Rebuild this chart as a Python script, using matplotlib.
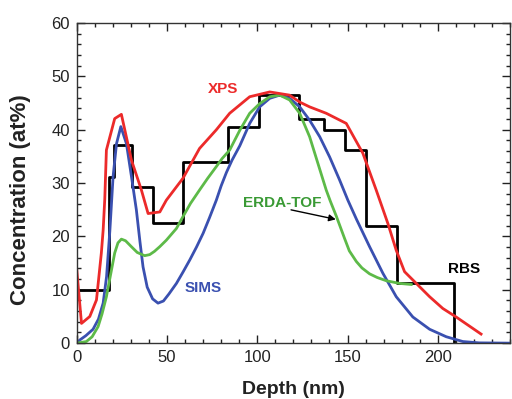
import numpy as np
import matplotlib.pyplot as plt
from matplotlib.ticker import MultipleLocator

plt.rcParams['font.family'] = ['Liberation Sans', 'DejaVu Sans']

# RBS step profile (left edge of each step, concentration)
rbs_x = [0, 18, 20.5, 30.5, 42, 59, 84, 101, 123, 137, 148.5, 160, 177.6, 209.2, 209.2]
rbs_y = [10, 31.2, 37.2, 29.3, 22.5, 34, 40.5, 46.5, 42.1, 40, 36.2, 22, 11.3, 0, 0]

# XPS
xps_x = [0, 2.6, 7.2, 10.9, 13.6, 14.6, 15.5, 16.4, 21, 24.7, 30.3, 35.8, 39.5, 46, 49.6,
         58.8, 68, 77.3, 84.7, 95.8, 106.9, 117.9, 123.5, 129, 138.2, 149.3, 158.5, 165.9,
         172.4, 177, 181.6, 188.1, 195.5, 202.8, 210.2, 224]
xps_y = [13.7, 3.7, 5.0, 8.1, 16.9, 21.2, 27, 36.2, 42.1, 42.9, 34.3, 28.7, 24.3, 24.6, 26.8,
         30.9, 36.5, 40, 43.1, 46.2, 47.1, 46.5, 45.2, 44.3, 43.1, 41.2, 35.6, 28.7,
         22.4, 17.4, 13.4, 11.2, 8.7, 6.5, 4.9, 1.7]

# SIMS
sims_x = [0, 1.7, 5, 9, 12, 14.6, 16.5, 18.3, 20.1, 22, 24.4, 27.5, 30.3, 33, 35, 36.7, 39,
          42, 45, 48, 51, 55.2, 58.8, 62.6, 66.3, 70, 73.5, 77.3, 80, 82.9, 86, 90.3, 95.8,
          101.3, 106.9, 112.4, 117.9, 123.5, 129, 134.6, 140.1, 145.6, 150.2, 155, 162.2,
          169.6, 177, 186.2, 195.5, 204.7, 213.9, 223, 240]
sims_y = [0, 0.6, 1.4, 2.6, 4.5, 7.5, 12.5, 21, 31.2, 37.4, 40.6, 37.4, 31.2, 25, 19, 14.3, 10.5,
          8.3, 7.5, 7.9, 9.2, 11.2, 13.3, 15.6, 18, 20.6, 23.5, 26.8, 29.5, 32, 34.3, 37, 41.2,
          44.3, 45.9, 46.5, 45.9, 44.3, 41.8, 38.7, 34.9, 30.6, 26.8, 23.2, 18.1,
          13.1, 8.7, 4.9, 2.6, 1.2, 0.3, 0.05, 0]

# ERDA-TOF
erda_x = [0, 5.3, 8.5, 11.8, 14, 16.4, 18.7, 21, 22.8, 24.7, 27, 30.2, 33.5, 37.6, 40.4, 43,
          46, 49.6, 55.2, 58.8, 63, 68, 72.5, 77.3, 80.5, 84.7, 90.3, 95.8, 101.3, 106.9,
          112.4, 117.9, 123.5, 129, 133.6, 138.2, 140.5, 143.8, 148.4, 151, 154.9, 158,
          162.2, 166.5, 171.5, 178.8, 185.3]
erda_y = [0, 0.3, 1.2, 3.1, 5.5, 8.7, 12.8, 16.9, 18.8, 19.5, 19.2, 18.1, 17.0, 16.4, 16.6, 17.2,
          18.1, 19.3, 21.5, 23.7, 26.2, 28.7, 30.9, 33.1, 34.6, 36.2, 39.9, 43.1, 44.9, 46.2,
          46.5, 45.6, 43.1, 38.7, 33.7, 28.7, 26.6, 23.8, 19.6, 17.3, 15.3, 14.1,
          13.0, 12.3, 11.7, 11.2, 11.0]

fig = plt.figure(figsize=(5.12, 3.99), dpi=100)
ax = fig.add_axes([0.150, 0.140, 0.846, 0.802])

lw = 2.0
ax.plot(rbs_x, rbs_y, color='black', lw=lw, drawstyle='steps-post')
ax.plot(sims_x, sims_y, color='#3a50b0', lw=lw)
ax.plot(erda_x, erda_y, color='#5dba48', lw=lw)
ax.plot(xps_x, xps_y, color='#ec2a2a', lw=lw)

ax.set_xlim(0, 240)
ax.set_ylim(0, 60)
ax.xaxis.set_major_locator(MultipleLocator(50))
ax.xaxis.set_minor_locator(MultipleLocator(10))
ax.yaxis.set_major_locator(MultipleLocator(10))
ax.yaxis.set_minor_locator(MultipleLocator(2))
ax.tick_params(which='both', direction='in', top=True, right=True, labelsize=12,
               colors='#222222', width=1.0)
ax.tick_params(which='major', length=6, pad=5)
ax.tick_params(which='minor', length=3)
for s in ax.spines.values():
    s.set_linewidth(1.0)
    s.set_color('#333333')

ax.set_xlabel('Depth (nm)', fontsize=14, fontweight='bold', color='#222222')
ax.set_ylabel('Concentration (at%)', fontsize=16, fontweight='bold', color='#222222')
ax.xaxis.set_label_coords(0.501, -0.119)
ax.yaxis.set_label_coords(-0.106, 0.447)

ax.text(81, 47.7, 'XPS', color='#ec2a2a', fontsize=11, fontweight='bold', ha='center', va='center')
ax.text(70, 10.4, 'SIMS', color='#3a50b0', fontsize=11, fontweight='bold', ha='center', va='center')
ax.text(114, 26.3, 'ERDA-TOF', color='#3a9a35', fontsize=11, fontweight='bold', ha='center', va='center')
ax.text(214.5, 13.9, 'RBS', color='black', fontsize=11, fontweight='bold', ha='center', va='center')
ax.annotate('', xy=(145, 23.1), xytext=(117.2, 25.1),
            arrowprops=dict(arrowstyle='-|>', color='black', lw=1.0, mutation_scale=10))

fig.savefig('out.png', dpi=100)
